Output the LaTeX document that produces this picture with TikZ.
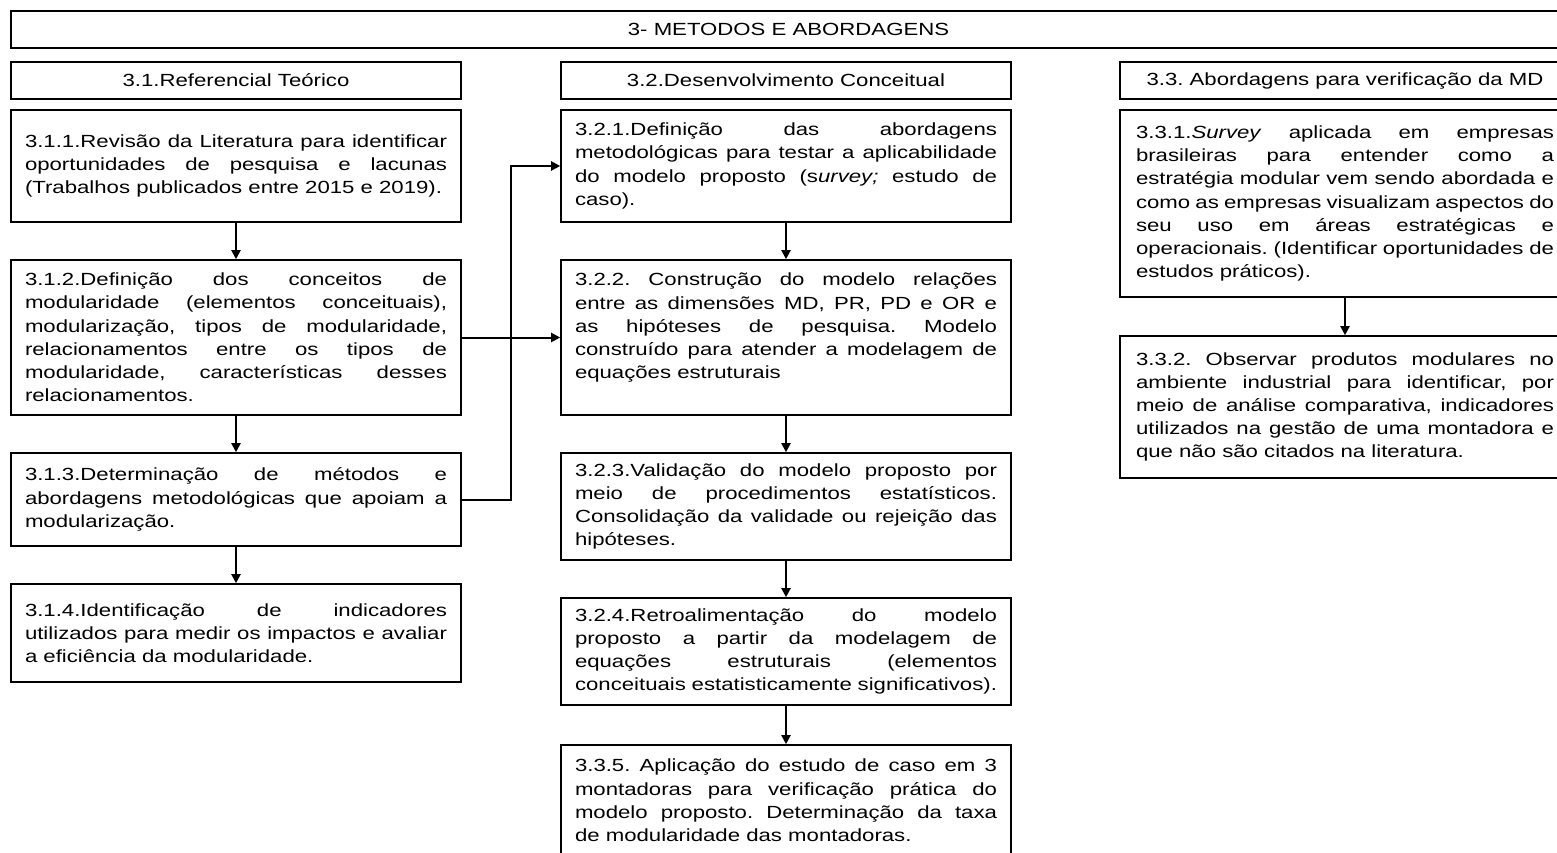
\documentclass[tikz,border=0pt]{standalone}
\usepackage{fontspec}
\setmainfont{Liberation Sans}[FakeStretch=1.26]
\usetikzlibrary{arrows.meta}
\frenchspacing
\begin{document}
\begin{tikzpicture}[x=1pt,y=-1pt,
  every node/.style={font=\fontsize{17.6}{23.2}\selectfont},
  headbox/.style={draw, line width=1.6pt, inner sep=0pt,
    minimum width=450pt, minimum height=37pt},
  stepbox/.style={draw, line width=1.6pt, text width=422pt,
    inner xsep=14pt, inner ysep=0pt, align=justify,
    execute at begin node={\frenchspacing\tolerance=10000\hbadness=10000\hyphenpenalty=10000\exhyphenpenalty=10000}},
  sidebox/.style={stepbox, text width=418pt, inner xsep=16pt},
  arr/.style={line width=2pt, -{Triangle[length=9pt,width=9pt]}}
]
\useasboundingbox (0,0) rectangle (1557,853);
\clip (0,0) rectangle (1557,853);

% title bar
\node[headbox, minimum width=1555pt] (title) at (788.5,29.5) {3- METODOS E ABORDAGENS};

% column headers
\node[headbox] (h31) at (236,80.5) {3.1.Referencial Teórico};
\node[headbox] (h32) at (786,80.5) {3.2.Desenvolvimento Conceitual};
\node[headbox] (h33) at (1345,80.5) {\frenchspacing 3.3. Abordagens para verificação da MD};

% column 1
\node[stepbox, minimum height=112pt] (b311) at (236,166) {3.1.1.Revisão da Literatura para identificar\linebreak
oportunidades de pesquisa e lacunas\linebreak
(Trabalhos publicados entre 2015 e 2019).};
\node[stepbox, minimum height=155pt] (b312) at (236,337.5) {3.1.2.Definição dos conceitos de\linebreak
modularidade (elementos conceituais),\linebreak
modularização, tipos de modularidade,\linebreak
relacionamentos entre os tipos de\linebreak
modularidade, características desses\linebreak
relacionamentos.};
\node[stepbox, minimum height=93pt] (b313) at (236,499.5) {3.1.3.Determinação de métodos e\linebreak
abordagens metodológicas que apoiam a\linebreak
modularização.};
\node[stepbox, minimum height=98pt] (b314) at (236,633) {3.1.4.Identificação de indicadores\linebreak
utilizados para medir os impactos e avaliar\linebreak
a eficiência da modularidade.};

% column 2
\node[stepbox, minimum height=112pt] (b321) at (786,166) {3.2.1.Definição das abordagens\linebreak
metodológicas para testar a aplicabilidade\linebreak
do modelo proposto (s\textit{urvey;} estudo de\linebreak
caso).};
\node[stepbox, minimum height=155pt] (b322) at (786,337.5) {3.2.2. Construção do modelo relações\linebreak
entre as dimensões MD, PR, PD e OR e\linebreak
as hipóteses de pesquisa. Modelo\linebreak
construído para atender a modelagem de\linebreak
equações estruturais\par\mbox{}};
\node[stepbox, minimum height=107pt] (b323) at (786,506.5) {3.2.3.Validação do modelo proposto por\linebreak
meio de procedimentos estatísticos.\linebreak
Consolidação da validade ou rejeição das\linebreak
hipóteses.};
\node[stepbox, minimum height=107pt] (b324) at (786,651.5) {3.2.4.Retroalimentação do modelo\linebreak
proposto a partir da modelagem de\linebreak
equações estruturais (elementos\linebreak
conceituais estatisticamente significativos).};
\node[stepbox, minimum height=111pt] (b335) at (786,800.5) {3.3.5. Aplicação do estudo de caso em 3\linebreak
montadoras para verificação prática do\linebreak
modelo proposto. Determinação da taxa\linebreak
de modularidade das montadoras.};

% column 3
\node[sidebox, minimum height=187pt] (b331) at (1345,203.5) {3.3.1.\textit{Survey} aplicada em empresas\linebreak
brasileiras para entender como a\linebreak
estratégia modular vem sendo abordada e\linebreak
como as empresas visualizam aspectos do\linebreak
seu uso em áreas estratégicas e\linebreak
operacionais. (Identificar oportunidades de\linebreak
estudos práticos).};
\node[sidebox, minimum height=142pt] (b332) at (1345,407) {3.3.2. Observar produtos modulares no\linebreak
ambiente industrial para identificar, por\linebreak
meio de análise comparativa, indicadores\linebreak
utilizados na gestão de uma montadora e\linebreak
que não são citados na literatura.};

% vertical flow within columns
\draw[arr] (b311.south) -- (b312.north);
\draw[arr] (b312.south) -- (b313.north);
\draw[arr] (b313.south) -- (b314.north);
\draw[arr] (b321.south) -- (b322.north);
\draw[arr] (b322.south) -- (b323.north);
\draw[arr] (b323.south) -- (b324.north);
\draw[arr] (b324.south) -- (b335.north);
\draw[arr] (b331.south) -- (b332.north);

% links from column 1 to column 2
\coordinate (jn) at (511,0);
\draw[arr] (b312.east) -- (b322.west);
\draw[arr] (b313.east) -| (jn |- b321.west) -- (b321.west);
\end{tikzpicture}
\end{document}
